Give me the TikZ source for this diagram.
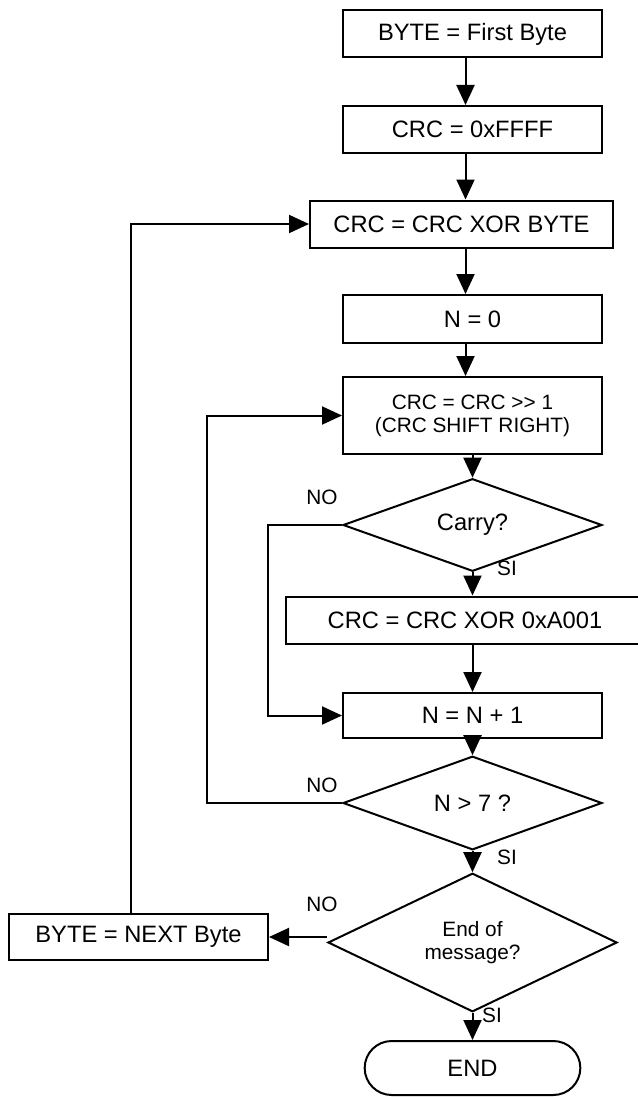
\documentclass[tikz,border=0pt]{standalone}
\usepackage{fontspec}
\newfontfamily\arial{Liberation Sans}
\usepackage{tikz}
\usetikzlibrary{shapes}
\usetikzlibrary{arrows.meta}
\newcommand{\bigtxt}{\arial\fontsize{11.85}{14}\selectfont}
\newcommand{\smalltxt}{\arial\fontsize{10.4}{11.6}\selectfont}
\tikzset{
  proc node/.style={rectangle,draw,line width=1pt,inner sep=0pt,minimum width=129.5pt,minimum height=23.5pt,font=\bigtxt},
  test node/.style={diamond,draw,line width=1pt,inner sep=0pt,minimum width=129.5pt,font=\bigtxt},
  end node/.style={rounded rectangle,draw,line width=1pt,minimum width=114.5pt,minimum height=27pt,font=\bigtxt},
  answer/.style={font=\smalltxt,inner sep=0pt}
}

\begin{document}
\begin{tikzpicture}[x=0.5pt,y=-0.5pt,line width=1pt,>={Triangle[length=10pt,width=9pt]}]
  \useasboundingbox (0,0) rectangle (637,1097);
  % main column
  \node [proc node] (first) at (472.5,34) {BYTE = First Byte};
  \node [proc node] (init) at (472.5,129.5) {CRC = 0xFFFF};
  \node [proc node,minimum width=151.5pt] (xorbyte) at (461.5,224) {CRC = CRC XOR BYTE};
  \node [proc node,minimum height=24pt] (nzero) at (472.5,319) {N = 0};
  \node [proc node,minimum height=38.5pt,align=center,font=\smalltxt] (shift) at (472.5,415.5) {CRC = CRC >> 1\\(CRC SHIFT RIGHT)};
  \node [test node,minimum height=39pt] (carry) at (472.5,525) {Carry?};
  \node [proc node,minimum width=179pt] (xorpoly) at (465,620) {CRC = CRC XOR 0xA001};
  \node [proc node,minimum height=22.5pt] (incn) at (472.5,715.5) {N = N + 1};
  \node [test node,minimum height=31pt] (gt7) at (472.5,803) {N > 7 ?};
  \node [test node,minimum width=144.5pt,minimum height=59.5pt,align=center,font=\smalltxt] (endmsg) at (472.5,942.5) {End of\\message?};
  \node [end node] (stop) at (472.5,1068) {END};
  \node [proc node,minimum height=23pt] (nextbyte) at (138.5,937) {BYTE = NEXT Byte};

  % forward arrows
  \coordinate (topcol) at (465.5,0);
  \draw [->] (first.south -| topcol) -- (init.north -| topcol);
  \draw [->] (init.south -| topcol) -- (xorbyte.north -| topcol);
  \draw [->] (xorbyte.south -| topcol) -- (nzero.north -| topcol);
  \draw [->] (nzero.south -| topcol) -- (shift.north -| topcol);
  \draw [->] (shift.south) -- (carry.north);
  \draw [->] (carry.south) -- (carry.south |- xorpoly.north);
  \draw [->] (xorpoly.south -| incn.north) -- (incn.north);
  \draw [->] (incn.south) -- (gt7.north);
  \draw [->] (gt7.south) -- (endmsg.north);
  \draw [->] (endmsg.south) -- (stop.north);
  \draw [->] (endmsg.west |- nextbyte) -- (nextbyte.east);

  % loops back
  \coordinate (backcol) at (131,0);
  \draw [->] (nextbyte.north -| backcol) |- (xorbyte.west);
  \coordinate (shiftcol) at (207,0);
  \draw [->] (gt7.west) -- (gt7.west -| shiftcol) |- (shift.west);
  \coordinate (skipcol) at (268,0);
  \draw [->] (carry.west) -- (carry.west -| skipcol) |- (incn.west);

  % answers
  \node [answer] (no1) at (322,497) {NO};
  \node [answer] (si1) at (507,568) {SI};
  \node [answer] (no2) at (322,785) {NO};
  \node [answer] (si2) at (507,857) {SI};
  \node [answer] (no3) at (322,904) {NO};
  \node [answer] (si3) at (492,1015) {SI};
\end{tikzpicture}
\end{document}
